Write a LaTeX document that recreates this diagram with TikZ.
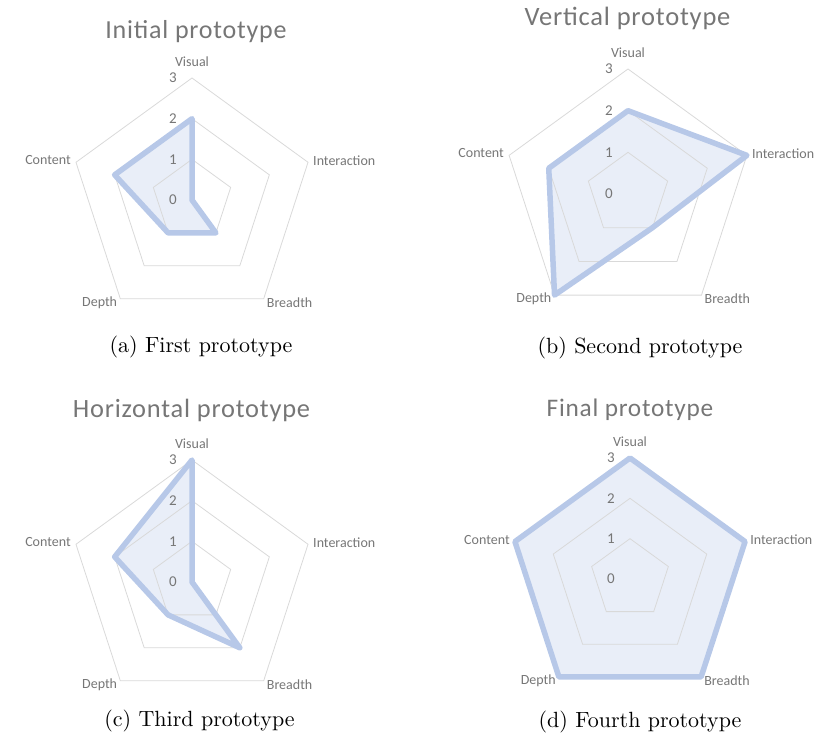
\documentclass[tikz,border=0pt]{standalone}
\usepackage{fontspec}
\usepackage{tikz}
\usetikzlibrary{positioning}
\newfontfamily\chartfont{Carlito}
\newfontfamily\capfont{lmroman10-regular}[Extension=.otf]

\definecolor{gridgray}{HTML}{D9D9D9}
\definecolor{labelgray}{HTML}{767676}
\definecolor{titlegray}{HTML}{767676}
\definecolor{seriesline}{HTML}{B7C8E8}
\definecolor{seriesfill}{HTML}{E9EEF8}

\tikzset{
  grid ring/.style={draw=gridgray, line width=0.8pt},
  series fill/.style={fill=seriesfill},
  series line/.style={draw=seriesline, line width=5.5pt, line join=round},
  axis label/.style={font=\chartfont\fontsize{14}{14}\selectfont, text=labelgray, inner sep=0pt},
  tick label/.style={font=\chartfont\fontsize{15}{15}\selectfont, text=labelgray, inner sep=0pt},
  chart title/.style={font=\chartfont\fontsize{#1}{#1}\selectfont\addfontfeature{LetterSpace=3},
    text=titlegray, inner sep=0pt, anchor=base},
  sub caption/.style={font=\capfont\fontsize{22}{24}\selectfont, inner sep=0pt, anchor=base}
}

% #1 name, #2 centre, #3 radius, #4 values (Visual, Interaction, Breadth, Depth, Content)
\newcommand{\radar}[4]{%
  \begin{scope}[shift={(#2)}]
    % Data points
    \foreach \val [count=\k from 0] in {#4}
      \coordinate (#1-d\k) at (90-72*\k:\val*#3/3);
    \fill[series fill] (#1-d0) -- (#1-d1) -- (#1-d2) -- (#1-d3) -- (#1-d4) -- cycle;
    % Rings
    \foreach \lvl in {1,2,3}
      \draw[grid ring] (90:\lvl*#3/3) \foreach \k in {1,...,4}{ -- (90-72*\k:\lvl*#3/3)} -- cycle;
    \draw[series line] (#1-d0) -- (#1-d1) -- (#1-d2) -- (#1-d3) -- (#1-d4) -- cycle;
    % Ticks
    \foreach \lvl in {0,...,3}
      \node[tick label] (#1-t\lvl) at (-19, \lvl*#3/3) {\lvl};
    % Axis labels
    \foreach \k in {0,...,4}
      \coordinate (#1-v\k) at (90-72*\k:#3);
    \node[axis label, above=11pt of #1-v0] (#1-visual) {Visual};
    \node[axis label, right=5pt of #1-v1, yshift=2pt] (#1-interaction) {Interaction};
    \node[axis label, right=3pt of #1-v2, yshift=-4pt] (#1-breadth) {Breadth};
    \node[axis label, left=3pt of #1-v3, yshift=-4pt] (#1-depth) {Depth};
    \node[axis label, left=5pt of #1-v4, yshift=2pt] (#1-content) {Content};
  \end{scope}}

\begin{document}
\begin{tikzpicture}[x=1pt, y=1pt]
    \useasboundingbox (0,0) rectangle (820,736);

    % Charts
    \radar{a}{192,536}{122}{2,0,1,1,2}
    \radar{b}{628,542}{125}{2,3,1,3,2}
    \radar{c}{192,154}{122}{3,0,2,1,2}
    \radar{d}{630,157}{121}{3,3,3,3,3}

    % Titles
    \node[chart title=26] (a-title) at (196, 697.7) {Initial prototype};
    \node[chart title=26.5] (b-title) at (627.5, 710) {Vertical prototype};
    \node[chart title=26.4] (c-title) at (191.5, 318) {Horizontal prototype};
    \node[chart title=25.3] (d-title) at (630, 319.7) {Final prototype};

    % Captions
    \node[sub caption] (a-cap) at (201, 383) {(a) First prototype};
    \node[sub caption] (b-cap) at (640, 382) {(b) Second prototype};
    \node[sub caption] (c-cap) at (199.5, 9) {(c) Third prototype};
    \node[sub caption] (d-cap) at (640, 8) {(d) Fourth prototype};
\end{tikzpicture}
\end{document}
